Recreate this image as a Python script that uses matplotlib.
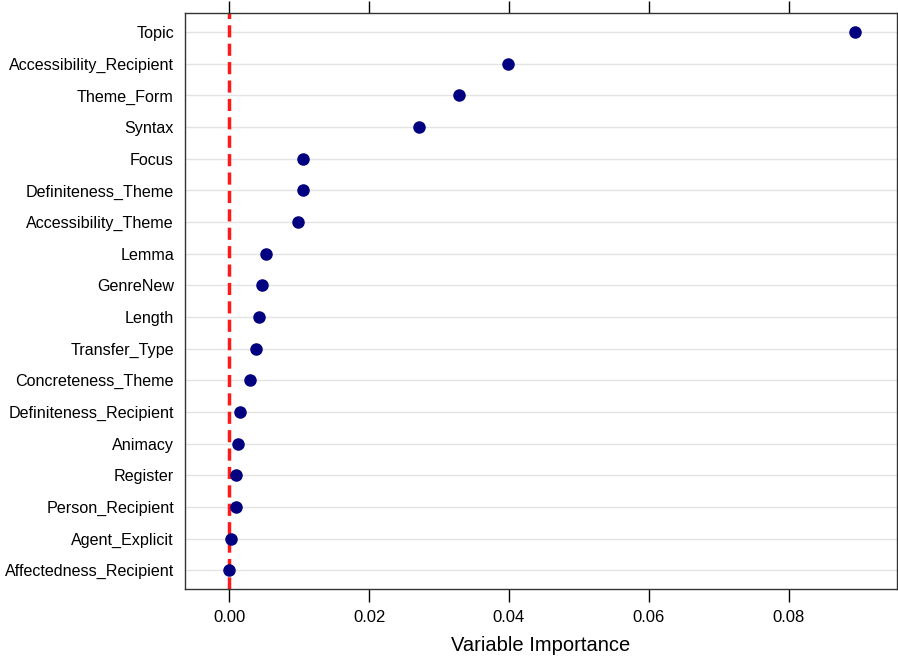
"""
Dot plot of variable importance.
"""

import matplotlib
matplotlib.use("Agg")
import matplotlib.pyplot as plt

plt.rcParams["font.family"] = ["Liberation Sans", "DejaVu Sans"]

variables = [
    "Topic",
    "Accessibility_Recipient",
    "Theme_Form",
    "Syntax",
    "Focus",
    "Definiteness_Theme",
    "Accessibility_Theme",
    "Lemma",
    "GenreNew",
    "Length",
    "Transfer_Type",
    "Concreteness_Theme",
    "Definiteness_Recipient",
    "Animacy",
    "Register",
    "Person_Recipient",
    "Agent_Explicit",
    "Affectedness_Recipient",
]

importance = [
    0.0895, 0.0398, 0.0328, 0.0271, 0.0105, 0.0105, 0.0098, 0.0052,
    0.0047, 0.0042, 0.0038, 0.0029, 0.0015, 0.0012, 0.0010, 0.0009,
    0.0003, -0.0001,
]

x_ticks = [0.00, 0.02, 0.04, 0.06, 0.08]

fig = plt.figure(figsize=(8.98, 6.59), dpi=100)
ax = fig.add_axes([0.206, 0.106, 0.793, 0.874])

n = len(variables)
y_pos = list(range(n, 0, -1))

for y in y_pos:
    ax.axhline(y, color="#e3e3e3", lw=1.0, zorder=1)

ax.axvline(0, color="#ff1a1a", lw=2.5, linestyle=(0, (3.5, 1.8)), zorder=2)

ax.plot(
    importance,
    y_pos,
    "o",
    color="#000080",
    markersize=8,
    zorder=3
)

ax.set_xlim(-0.00633, 0.0955)
ax.set_ylim(0.4, n + 0.6)

ax.set_yticks(y_pos)
ax.set_yticklabels(variables, fontsize=11.6)
ax.tick_params(axis="y", length=0, pad=8)

ax.set_xticks(x_ticks)
ax.set_xticklabels([f"{t:.2f}" for t in x_ticks], fontsize=12)
ax.tick_params(
    axis="x",
    top=True,
    labeltop=False,
    direction="out",
    length=9,
    width=1,
    pad=6
)

for spine in ax.spines.values():
    spine.set_linewidth(1)
    spine.set_color("#333333")

ax.set_xlabel("Variable Importance", fontsize=14.5, labelpad=8)

plt.savefig("out.png", dpi=100)
plt.close()
